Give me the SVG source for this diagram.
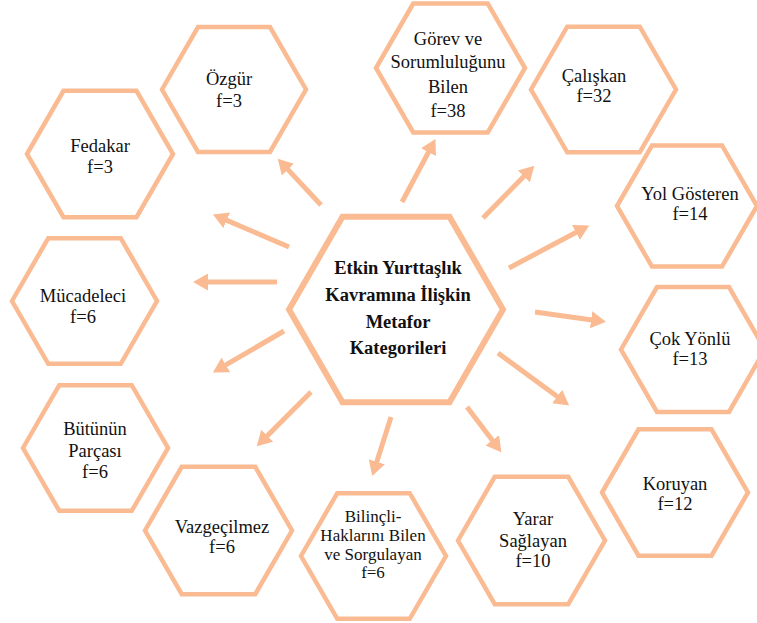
<svg xmlns="http://www.w3.org/2000/svg" width="757" height="623" viewBox="0 0 757 623">
<style>
.hex{fill:#fff;stroke:#FABB93;stroke-width:4.5}
.hexc{fill:#fff;stroke:#FABB93;stroke-width:6}
text{font-family:'Liberation Serif','Times New Roman','DejaVu Serif',serif;fill:#111;text-anchor:middle}
.t{font-size:18.5px}
.s{font-size:17px}
.tb{font-size:18.5px;font-weight:bold}
.c{stroke:#FABB93;stroke-width:5;fill:none;marker-end:url(#ah)}
</style>
<defs>
<marker id="ah" markerUnits="userSpaceOnUse" viewBox="0 0 15 17" markerWidth="15" markerHeight="17" refX="1" refY="8.5" orient="auto">
<path d="M0,0 L15,8.5 L0,17 Z" fill="#FABB93"/>
</marker>
</defs>
<rect width="757" height="623" fill="#fff"/>
<g id="connectors">
<line class="c" x1="321" y1="205" x2="287.3" y2="168.9"/>
<line class="c" x1="289" y1="247" x2="225.8" y2="219.9"/>
<line class="c" x1="277" y1="282" x2="207" y2="282"/>
<line class="c" x1="284" y1="331" x2="225" y2="365.4"/>
<line class="c" x1="311" y1="392" x2="266.6" y2="436.4"/>
<line class="c" x1="391" y1="417" x2="376.5" y2="462.7"/>
<line class="c" x1="467" y1="407" x2="492.9" y2="441.1"/>
<line class="c" x1="498" y1="353" x2="557.9" y2="397.1"/>
<line class="c" x1="535" y1="312" x2="592.1" y2="319.9"/>
<line class="c" x1="509" y1="268" x2="576.8" y2="232"/>
<line class="c" x1="483" y1="218" x2="524.5" y2="175.7"/>
<line class="c" x1="402" y1="202" x2="428.9" y2="151.3"/>
</g>
<g id="center">
<polygon class="hexc" points="289,309.5 342.5,216.8 449.5,216.8 503,309.5 449.5,402.2 342.5,402.2"/>
<text class="tb" x="398" y="274">Etkin Yurttaşlık</text>
<text class="tb" x="398" y="301">Kavramına İlişkin</text>
<text class="tb" x="398" y="328">Metafor</text>
<text class="tb" x="398" y="354">Kategorileri</text>
</g>
<g id="ozgur">
<polygon class="hex" points="162,89.5 198,27.1 270,27.1 306,89.5 270,151.9 198,151.9"/>
<text class="t" x="229" y="85">Özgür</text>
<text class="t" x="229" y="107">f=3</text>
</g>
<g id="fedakar">
<polygon class="hex" points="27,154 63.5,90.8 136.5,90.8 173,154 136.5,217.2 63.5,217.2"/>
<text class="t" x="100" y="152">Fedakar</text>
<text class="t" x="100" y="173">f=3</text>
</g>
<g id="gorev">
<polygon class="hex" points="376,68 413.25,3.5 487.75,3.5 525,68 487.75,132.5 413.25,132.5"/>
<text class="t" x="448" y="45">Görev ve</text>
<text class="t" x="448" y="68">Sorumluluğunu</text>
<text class="t" x="448" y="93">Bilen</text>
<text class="t" x="448" y="117">f=38</text>
</g>
<g id="caliskan">
<polygon class="hex" points="531,89.5 567.25,26.7 639.75,26.7 676,89.5 639.75,152.3 567.25,152.3"/>
<text class="t" x="594" y="82">Çalışkan</text>
<text class="t" x="594" y="102">f=32</text>
</g>
<g id="yolgosteren">
<polygon class="hex" points="617,206 652,145.4 722,145.4 757,206 722,266.6 652,266.6"/>
<text class="t" x="690" y="200">Yol Gösteren</text>
<text class="t" x="690" y="220">f=14</text>
</g>
<g id="mucadeleci">
<polygon class="hex" points="12,301 48.25,238.2 120.75,238.2 157,301 120.75,363.8 48.25,363.8"/>
<text class="t" x="83" y="302">Mücadeleci</text>
<text class="t" x="83" y="323">f=6</text>
</g>
<g id="butunun">
<polygon class="hex" points="23,448 59.25,385.2 131.75,385.2 168,448 131.75,510.8 59.25,510.8"/>
<text class="t" x="95" y="435">Bütünün</text>
<text class="t" x="95" y="457">Parçası</text>
<text class="t" x="95" y="478">f=6</text>
</g>
<g id="vazgecilmez">
<polygon class="hex" points="145,530.5 181.75,466.8 255.25,466.8 292,530.5 255.25,594.2 181.75,594.2"/>
<text class="t" x="222" y="533">Vazgeçilmez</text>
<text class="t" x="222" y="553">f=6</text>
</g>
<g id="bilincli">
<polygon class="hex" points="301,556 337.25,493.2 409.75,493.2 446,556 409.75,618.8 337.25,618.8"/>
<text class="s" x="373" y="522">Bilinçli-</text>
<text class="s" x="373" y="541">Haklarını Bilen</text>
<text class="s" x="373" y="560">ve Sorgulayan</text>
<text class="s" x="373" y="578">f=6</text>
</g>
<g id="yarar">
<polygon class="hex" points="458,540.5 494.75,476.8 568.25,476.8 605,540.5 568.25,604.2 494.75,604.2"/>
<text class="t" x="533" y="525">Yarar</text>
<text class="t" x="533" y="547">Sağlayan</text>
<text class="t" x="533" y="567">f=10</text>
</g>
<g id="koruyan">
<polygon class="hex" points="602,492.5 638.5,429.3 711.5,429.3 748,492.5 711.5,555.7 638.5,555.7"/>
<text class="t" x="675" y="490">Koruyan</text>
<text class="t" x="675" y="510">f=12</text>
</g>
<g id="cokyonlu">
<polygon class="hex" points="621,349.5 657,287.1 729,287.1 765,349.5 729,411.9 657,411.9"/>
<text class="t" x="690" y="345">Çok Yönlü</text>
<text class="t" x="690" y="365">f=13</text>
</g>
</svg>
